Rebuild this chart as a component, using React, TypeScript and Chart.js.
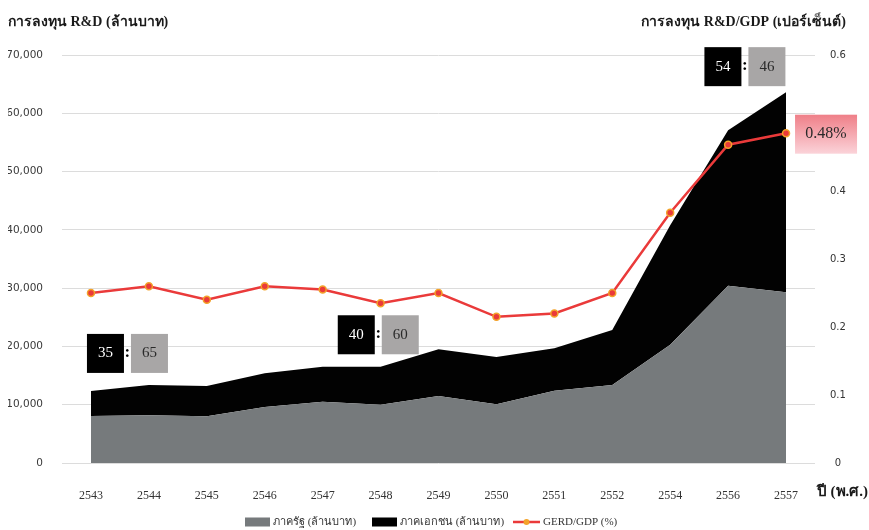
import React, { useEffect, useRef } from "react";
import { Chart, registerables } from "chart.js";

Chart.register(...registerables);

const years = ["2543", "2544", "2545", "2546", "2547", "2548", "2549", "2550", "2551", "2552", "2554", "2556", "2557"];
const publicRD = [8060, 8200, 8000, 9600, 10500, 10000, 11500, 10100, 12400, 13400, 20300, 30400, 29300];
const privateRD = [4290, 5200, 5200, 5800, 6000, 6500, 8000, 8100, 7300, 9400, 20500, 26700, 34300];
const gerdGdp = [0.25, 0.26, 0.24, 0.26, 0.255, 0.235, 0.25, 0.215, 0.22, 0.25, 0.368, 0.468, 0.485];

const leftTicks = [0, 10000, 20000, 30000, 40000, 50000, 60000, 70000];
const rightTicks = [0, 0.1, 0.2, 0.3, 0.4, 0.5, 0.6];

const leftTitle = "การลงทุน R&D (ล้านบาท)";
const rightTitle = "การลงทุน R&D/GDP (เปอร์เซ็นต์)";
const xTitle = "ปี (พ.ศ.)";
const legendLabels = ["ภาครัฐ (ล้านบาท)", "ภาคเอกชน (ล้านบาท)", "GERD/GDP (%)"];

// ratio annotations: [private share, public share]
const ratioPrivate = [35, 40, 54];
const ratioPublic = [65, 60, 46];
const ratioAtIndex = [0.63, 4.96, 11.29];
const ratioAtValue = [18800, 22000, 68000];
const lastValueLabel = "0.48%";

const GREY = "#767a7c";
const BLACK = "#020202";
const RED = "#ea3a3a";
const ORANGE = "#f3a32a";
const SERIF = "'Liberation Serif', 'Times New Roman', serif";
const SANS = "'DejaVu Sans', Verdana, sans-serif";

const overlay = {
  id: "overlay",
  afterDraw(chart: any) {
    const ctx = chart.ctx as CanvasRenderingContext2D;
    const xs = chart.scales.x;
    const ys = chart.scales.y;
    const y1 = chart.scales.y1;
    ctx.save();
    // titles
    ctx.fillStyle = "#1a1a1a";
    ctx.font = `bold 14px ${SERIF}`;
    ctx.textBaseline = "middle";
    ctx.textAlign = "left";
    ctx.fillText(leftTitle, 8, 22);
    ctx.textAlign = "right";
    ctx.fillText(rightTitle, 846, 22);
    ctx.font = `bold 15px ${SERIF}`;
    ctx.fillText(xTitle, 868, 492);

    // ratio boxes
    const bw = 37, bh = 39, gap = 3.5;
    for (let i = 0; i < ratioPrivate.length; i++) {
      const cx = xs.getPixelForValue(ratioAtIndex[i]);
      const cy = ys.getPixelForValue(ratioAtValue[i]);
      const top = cy - bh / 2;
      ctx.fillStyle = "#000";
      ctx.fillRect(cx - gap - bw, top, bw, bh);
      ctx.fillStyle = "#a8a6a6";
      ctx.fillRect(cx + gap, top, bw, bh);
      ctx.font = `15px ${SERIF}`;
      ctx.textAlign = "center";
      ctx.fillStyle = "#fff";
      ctx.fillText(String(ratioPrivate[i]), cx - gap - bw / 2, cy);
      ctx.fillStyle = "#2a2a2a";
      ctx.fillText(String(ratioPublic[i]), cx + gap + bw / 2, cy);
      ctx.fillStyle = "#000";
      ctx.font = `bold 17px ${SERIF}`;
      ctx.fillText(":", cx, cy - 1);
    }

    // last value label
    const li = gerdGdp.length - 1;
    const px = xs.getPixelForValue(li);
    const py = y1.getPixelForValue(gerdGdp[li]);
    const lx = px + 9, lw = 62, lh = 39, ly = py - lh / 2 + 1;
    const g = ctx.createLinearGradient(0, ly, 0, ly + lh);
    g.addColorStop(0, "#ef7f88");
    g.addColorStop(1, "#fbd3d9");
    ctx.fillStyle = g;
    ctx.fillRect(lx, ly, lw, lh);
    ctx.fillStyle = "#2a2a2a";
    ctx.font = `16px ${SERIF}`;
    ctx.textAlign = "center";
    ctx.fillText(lastValueLabel, lx + lw / 2, ly + lh / 2);

    // legend
    const ly2 = 522;
    ctx.font = `11px ${SERIF}`;
    ctx.textAlign = "left";
    ctx.fillStyle = GREY;
    ctx.fillRect(245, ly2 - 4.5, 25, 9);
    ctx.fillStyle = "#333";
    ctx.fillText(legendLabels[0], 273, ly2);
    ctx.fillStyle = "#000";
    ctx.fillRect(372, ly2 - 4.5, 25, 9);
    ctx.fillStyle = "#333";
    ctx.fillText(legendLabels[1], 400, ly2);
    ctx.strokeStyle = RED;
    ctx.lineWidth = 2.5;
    ctx.beginPath();
    ctx.moveTo(513, ly2);
    ctx.lineTo(540, ly2);
    ctx.stroke();
    ctx.beginPath();
    ctx.arc(526.5, ly2, 3, 0, Math.PI * 2);
    ctx.fillStyle = ORANGE;
    ctx.fill();
    ctx.fillStyle = "#333";
    ctx.fillText(legendLabels[2], 543, ly2);
    ctx.restore();
  },
};

export default function App() {
  const ref = useRef<HTMLCanvasElement | null>(null);
  useEffect(() => {
    if (!ref.current) return;
    const chart = new Chart(ref.current, {
      type: "line",
      data: {
        labels: years,
        datasets: [
          {
            label: legendLabels[2],
            data: gerdGdp,
            yAxisID: "y1",
            borderColor: RED,
            borderWidth: 2.5,
            pointRadius: 3.5,
            pointBackgroundColor: RED,
            pointBorderColor: ORANGE,
            pointBorderWidth: 1.5,
            fill: false,
            tension: 0,
            order: 0,
          },
          {
            label: legendLabels[0],
            data: publicRD,
            yAxisID: "y",
            backgroundColor: GREY,
            borderWidth: 0,
            pointRadius: 0,
            fill: "origin",
            tension: 0,
            stack: "rd",
            order: 1,
          },
          {
            label: legendLabels[1],
            data: privateRD,
            yAxisID: "y",
            backgroundColor: BLACK,
            borderWidth: 0,
            pointRadius: 0,
            fill: "-1",
            tension: 0,
            stack: "rd",
            order: 2,
          },
        ],
      },
      options: {
        responsive: true,
        maintainAspectRatio: false,
        animation: false,
        layout: { padding: { top: 55, left: 8, right: 10, bottom: 31 } },
        plugins: { legend: { display: false }, tooltip: { enabled: false } },
        scales: {
          x: {
            offset: true,
            grid: { display: false },
            border: { display: false },
            ticks: { color: "#333", font: { family: SERIF, size: 12 }, padding: 18, maxRotation: 0, autoSkip: false },
            afterFit: (s: any) => { s.height = 36; },
          },
          y: {
            stacked: true,
            position: "left",
            min: 0,
            max: 70000,
            afterBuildTicks: (s: any) => { s.ticks = leftTicks.map((v) => ({ value: v })); },
            grid: { color: "#dcdcdc", drawTicks: false, lineWidth: 1 },
            border: { display: false },
            ticks: {
              color: "#3a3a3a",
              font: { family: SANS, size: 10.5 },
              padding: 19,
              callback: (v: any) => Number(v).toLocaleString("en-US"),
            },
            afterFit: (s: any) => { s.width = 54; },
          },
          y1: {
            position: "right",
            min: 0,
            max: 0.6,
            afterBuildTicks: (s: any) => { s.ticks = rightTicks.map((v) => ({ value: v })); },
            grid: { display: false, drawTicks: false },
            border: { display: false },
            ticks: {
              color: "#333",
              font: { family: SANS, size: 10 },
              padding: 15,
              crossAlign: "center",
              callback: (v: any) => String(Math.round(Number(v) * 10) / 10),
            },
            afterFit: (s: any) => { s.width = 44; },
          },
        },
      },
      plugins: [overlay],
    });
    return () => chart.destroy();
  }, []);
  return (
    <div style={{ position: "fixed", left: 0, top: 0, width: 869, height: 530, background: "#fff" }}>
      <canvas ref={ref} />
    </div>
  );
}
